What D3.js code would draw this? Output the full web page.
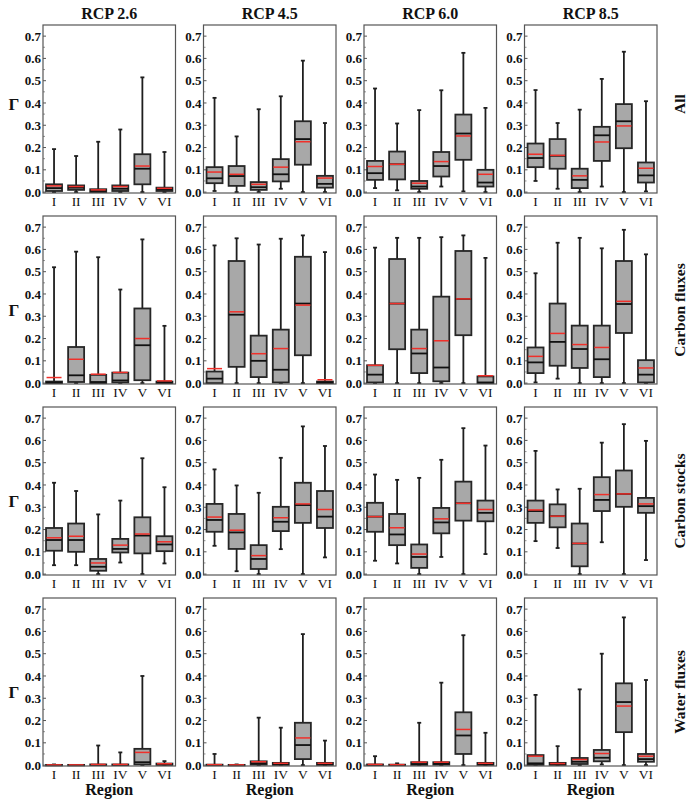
<!DOCTYPE html>
<html><head><meta charset="utf-8">
<script src="https://cdn.jsdelivr.net/npm/d3@7"></script>
<style>body{margin:0;background:#fff}svg{display:block}
svg text{font-family:"Liberation Serif","DejaVu Serif","Times New Roman",serif;fill:#111}</style>
</head><body>
<svg id="chart" width="700" height="799"></svg>
<script>
// ---- Data: each box = [min, q1, median, q3, mean, max] ----
const regions = ["I","II","III","IV","V","VI"];
const scenarios = ["RCP 2.6","RCP 4.5","RCP 6.0","RCP 8.5"];
const rowLabels = ["All","Carbon fluxes","Carbon stocks","Water fluxes"];
const yTicks = [0,0.1,0.2,0.3,0.4,0.5,0.6,0.7];
const yMinorTicks = [0.05,0.15,0.25,0.35,0.45,0.55,0.65];

const all26 = [[0,0.005,0.018,0.035,0.028,0.193],[0,0.01,0.02,0.03,0.025,0.162],[0,0,0.005,0.013,0.01,0.226],[0,0.005,0.015,0.03,0.025,0.281],[0,0.035,0.105,0.17,0.117,0.515],[0,0.005,0.012,0.02,0.017,0.18]];
const all45 = [[0.005,0.04,0.062,0.112,0.09,0.423],[0,0.028,0.072,0.117,0.08,0.25],[0,0.01,0.022,0.045,0.035,0.372],[0.015,0.048,0.08,0.148,0.112,0.43],[0,0.123,0.238,0.318,0.226,0.59],[0,0.02,0.037,0.073,0.063,0.31]];
const all60 = [[0.018,0.055,0.085,0.14,0.115,0.465],[0.008,0.057,0.125,0.182,0.125,0.308],[0,0.015,0.025,0.05,0.04,0.368],[0.025,0.07,0.117,0.18,0.137,0.457],[0.003,0.145,0.263,0.348,0.252,0.625],[0,0.025,0.043,0.1,0.08,0.378]];
const all85 = [[0.05,0.112,0.153,0.218,0.17,0.458],[0.015,0.105,0.163,0.238,0.165,0.31],[0,0.018,0.055,0.105,0.073,0.37],[0.025,0.14,0.255,0.293,0.225,0.508],[0,0.197,0.318,0.395,0.297,0.63],[0.003,0.043,0.075,0.133,0.107,0.408]];

const cflux26 = [[0,0,0.003,0.007,0.025,0.52],[0,0.005,0.035,0.162,0.107,0.59],[0,0,0.005,0.037,0.04,0.565],[0,0.003,0.012,0.047,0.048,0.42],[0,0.013,0.17,0.335,0.2,0.645],[0,0,0.003,0.007,0.01,0.257]];
const cflux45 = [[0,0,0.02,0.052,0.065,0.618],[0,0.073,0.307,0.548,0.32,0.65],[0,0.027,0.1,0.213,0.132,0.622],[0,0.003,0.06,0.24,0.155,0.648],[0,0.125,0.357,0.567,0.35,0.663],[0,0,0.003,0.007,0.015,0.588]];
const cflux60 = [[0,0.003,0.038,0.08,0.08,0.608],[0,0.152,0.357,0.557,0.357,0.652],[0,0.045,0.133,0.24,0.155,0.652],[0,0.008,0.07,0.388,0.19,0.655],[0,0.215,0.378,0.593,0.378,0.663],[0,0,0.003,0.03,0.033,0.562]];
const cflux85 = [[0.003,0.045,0.093,0.16,0.12,0.493],[0.02,0.078,0.185,0.357,0.223,0.63],[0,0.068,0.153,0.258,0.173,0.652],[0,0.027,0.107,0.258,0.16,0.605],[0,0.225,0.355,0.548,0.367,0.688],[0,0.003,0.038,0.103,0.068,0.578]];

const cstock26 = [[0.04,0.105,0.153,0.207,0.163,0.41],[0.04,0.1,0.153,0.227,0.17,0.373],[0,0.015,0.033,0.068,0.05,0.268],[0.052,0.097,0.113,0.158,0.13,0.33],[0,0.093,0.173,0.255,0.18,0.52],[0.048,0.103,0.133,0.17,0.145,0.39]];
const cstock45 = [[0.127,0.19,0.243,0.315,0.256,0.47],[0.013,0.113,0.187,0.27,0.197,0.398],[0,0.023,0.068,0.13,0.083,0.365],[0.112,0.193,0.235,0.302,0.253,0.522],[0,0.23,0.31,0.41,0.315,0.663],[0.075,0.207,0.258,0.373,0.29,0.575]];
const cstock60 = [[0.06,0.19,0.258,0.32,0.258,0.447],[0.048,0.13,0.178,0.27,0.208,0.423],[0,0.028,0.077,0.133,0.09,0.432],[0.077,0.183,0.232,0.297,0.248,0.513],[0,0.24,0.318,0.415,0.318,0.655],[0.09,0.237,0.275,0.33,0.29,0.577]];
const cstock85 = [[0.148,0.23,0.283,0.33,0.288,0.553],[0.117,0.21,0.26,0.313,0.26,0.38],[0,0.035,0.137,0.227,0.138,0.383],[0.143,0.283,0.333,0.435,0.357,0.59],[0,0.302,0.36,0.465,0.36,0.673],[0.063,0.275,0.305,0.342,0.315,0.598]];

const water26 = [[0,0,0,0.001,0.001,0.003],[0,0,0,0.001,0.001,0.001],[0,0,0.001,0.003,0.003,0.088],[0,0,0.001,0.003,0.003,0.057],[0,0.003,0.013,0.073,0.057,0.4],[0,0.001,0.003,0.007,0.006,0.018]];
const water45 = [[0,0,0.001,0.002,0.002,0.05],[0,0,0,0.001,0.001,0.003],[0,0.002,0.008,0.017,0.015,0.213],[0,0.001,0.004,0.01,0.008,0.168],[0,0.027,0.09,0.19,0.122,0.588],[0,0.001,0.004,0.01,0.008,0.11]];
const water60 = [[0,0,0.001,0.003,0.003,0.04],[0,0,0.001,0.002,0.002,0.008],[0,0.001,0.005,0.013,0.013,0.19],[0,0.002,0.006,0.013,0.013,0.37],[0,0.05,0.133,0.237,0.16,0.583],[0,0.001,0.004,0.01,0.008,0.145]];
const water85 = [[0,0.001,0.008,0.045,0.04,0.315],[0,0.001,0.004,0.01,0.007,0.085],[0,0.005,0.015,0.032,0.025,0.34],[0.003,0.017,0.033,0.068,0.052,0.5],[0,0.148,0.283,0.367,0.265,0.663],[0,0.015,0.027,0.05,0.04,0.382]];

const grid = [
  [all26, all45, all60, all85],
  [cflux26, cflux45, cflux60, cflux85],
  [cstock26, cstock45, cstock60, cstock85],
  [water26, water45, water60, water85]
];

// ---- Layout ----
const svg = d3.select("#chart");
const colLeft = [43, 203.5, 364, 524.5];
const panelW = 132.5;
const rowTop = [25, 216, 407, 598];
const panelH = 168;
const labelOffset = [-5, 10, 10, 10];

const x = d3.scaleBand().domain(regions).range([0, panelW]).paddingInner(0).paddingOuter(0);
const y = d3.scaleLinear().domain([-0.004, 0.75]).range([panelH, 0]);
const boxW = 16, capW = 4;

scenarios.forEach((s, c) => {
  svg.append("text").attr("x", colLeft[c] + panelW/2).attr("y", 19)
    .attr("text-anchor","middle").attr("font-weight","bold")
    .attr("font-size", 16).text(s);
});

grid.forEach((row, r) => {
  row.forEach((data, c) => {
    const g = svg.append("g").attr("transform", `translate(${colLeft[c]},${rowTop[r]})`);

    g.selectAll(".maj").data(yTicks).join("line")
      .attr("x1", 0).attr("x2", 3).attr("y1", d => y(d)).attr("y2", d => y(d))
      .attr("stroke", "#555").attr("stroke-width", 1);
    g.selectAll(".min").data(yMinorTicks).join("line")
      .attr("x1", 0).attr("x2", 2).attr("y1", d => y(d)).attr("y2", d => y(d))
      .attr("stroke", "#777").attr("stroke-width", 0.8);
    g.selectAll(".yl").data(yTicks).join("text")
      .attr("x", -2).attr("y", d => y(d)).attr("dy", "0.35em")
      .attr("text-anchor","end").attr("font-weight","bold")
      .attr("font-size", 13).text(d => d.toFixed(1));

    g.selectAll(".xl").data(regions).join("text")
      .attr("x", d => x(d) + x.bandwidth()/2).attr("y", panelH + 12.5)
      .attr("text-anchor","middle")
      .attr("font-size", 13.5).text(d => d);

    const bx = g.selectAll(".bx").data(data).join("g")
      .attr("transform", (d, i) => `translate(${x(regions[i]) + x.bandwidth()/2},0)`);
    const wc = "#1e1e1e", sw = 1.8;
    bx.append("line").attr("x1",0).attr("x2",0).attr("y1", d => y(d[5])).attr("y2", d => y(d[0]))
      .attr("stroke", wc).attr("stroke-width", sw);
    bx.append("line").attr("x1",-capW/2).attr("x2",capW/2).attr("y1", d => y(d[5])).attr("y2", d => y(d[5]))
      .attr("stroke", wc).attr("stroke-width", sw);
    bx.append("line").attr("x1",-capW/2).attr("x2",capW/2).attr("y1", d => y(d[0])).attr("y2", d => y(d[0]))
      .attr("stroke", wc).attr("stroke-width", sw);
    bx.append("rect").attr("x", -boxW/2).attr("width", boxW)
      .attr("y", d => y(d[3])).attr("height", d => Math.max(0.5, y(d[1]) - y(d[3])))
      .attr("fill", "#a8a8a8").attr("stroke", "#262626").attr("stroke-width", sw);
    bx.append("line").attr("x1",-boxW/2).attr("x2",boxW/2).attr("y1", d => y(d[2])).attr("y2", d => y(d[2]))
      .attr("stroke", "#111").attr("stroke-width", sw);
    bx.append("line").attr("x1",-boxW/2+0.5).attr("x2",boxW/2-0.5).attr("y1", d => y(d[4])).attr("y2", d => y(d[4]))
      .attr("stroke", "#f0302a").attr("stroke-width", 1.5);

    g.append("rect").attr("x",0).attr("y",0).attr("width",panelW).attr("height",panelH)
      .attr("fill","none").attr("stroke","#555").attr("stroke-width",1.2);

    if (c === 0) {
      svg.append("text").attr("x", 14).attr("y", rowTop[r] + panelH/2 + labelOffset[r])
        .attr("dy","0.35em").attr("text-anchor","middle")
        .attr("font-weight","bold").attr("font-size", 17).text("Γ");
    }
    if (r === 3) {
      svg.append("text").attr("x", colLeft[c] + panelW/2).attr("y", 795)
        .attr("text-anchor","middle").attr("font-weight","bold")
        .attr("font-size", 16).text("Region");
    }
  });
  const cy = rowTop[r] + panelH/2 + labelOffset[r];
  svg.append("text").attr("transform", `translate(680,${cy}) rotate(-90)`)
    .attr("text-anchor","middle").attr("dy","0.35em")
    .attr("font-weight","bold").attr("font-size", 15.5).text(rowLabels[r]);
});
</script>
</body></html>
